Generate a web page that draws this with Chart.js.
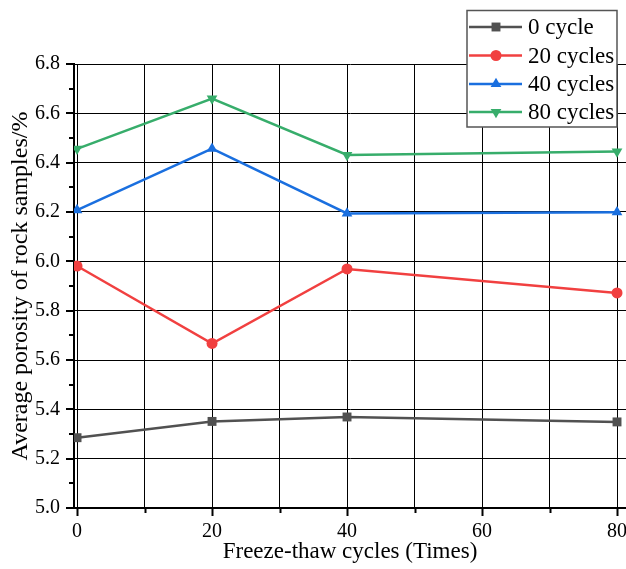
<!DOCTYPE html>
<html>
<head>
<meta charset="utf-8">
<script src="https://cdn.jsdelivr.net/npm/chart.js@4/dist/chart.umd.min.js"></script>
<style>
  html, body { margin: 0; padding: 0; background: #fff; }
  #wrap { position: relative; width: 626px; height: 569px; }
</style>
</head>
<body>
<div id="wrap"><canvas id="c" width="626" height="569"></canvas></div>
<script>
const xValues = [0, 20, 40, 80];
const seriesNames = ['0 cycle', '20 cycles', '40 cycles', '80 cycles'];
const cycle0 = [5.285, 5.351, 5.369, 5.349];
const cycle20 = [5.981, 5.667, 5.969, 5.872];
const cycle40 = [6.208, 6.457, 6.194, 6.199];
const cycle80 = [6.456, 6.660, 6.431, 6.445];
const xTicks = [0, 10, 20, 30, 40, 50, 60, 70, 80];
const yTicks = [5.0, 5.1, 5.2, 5.3, 5.4, 5.5, 5.6, 5.7, 5.8, 5.9, 6.0, 6.1, 6.2, 6.3, 6.4, 6.5, 6.6, 6.7, 6.8];

const FONT = '"Liberation Serif", "Times New Roman", serif';
const colors = ['#515151', '#F14040', '#1A6FDF', '#37AD6B'];
const styles = [
  { pointStyle: 'rect', radius: 6.3, rotation: 0 },
  { pointStyle: 'circle', radius: 5.5, rotation: 0 },
  { pointStyle: 'triangle', radius: 6.2, rotation: 0 },
  { pointStyle: 'triangle', radius: 6.2, rotation: 180 }
];
const allSeries = [cycle0, cycle20, cycle40, cycle80];

const datasets = allSeries.map((vals, i) => ({
  label: seriesNames[i],
  data: vals.map((v, j) => ({ x: xValues[j], y: v })),
  borderColor: colors[i],
  backgroundColor: colors[i],
  borderWidth: 2.5,
  pointStyle: styles[i].pointStyle,
  pointRadius: styles[i].radius,
  pointRotation: styles[i].rotation,
  pointBorderWidth: 0,
  pointBackgroundColor: colors[i],
  tension: 0,
  order: 4 - i
}));

const isMajorY = v => Math.abs(v * 5 - Math.round(v * 5)) < 1e-6;
const isMajorX = v => Math.abs(v / 20 - Math.round(v / 20)) < 1e-6;

// stretch plot area to the canvas' right edge, as in the reference
const stretchRight = {
  id: 'stretchRight',
  afterLayout(chart) {
    const W = chart.width;
    const a = chart.chartArea;
    a.right = W;
    a.width = W - a.left;
    const x = chart.scales.x;
    x.right = W;
    x.width = W - x.left;
    x.configure();
  }
};

const minorTicks = {
  id: 'minorTicks',
  afterDraw(chart) {
    const ctx = chart.ctx;
    const xs = chart.scales.x, ys = chart.scales.y;
    const area = chart.chartArea;
    ctx.save();
    ctx.strokeStyle = '#000';
    ctx.lineWidth = 2;
    yTicks.forEach(v => {
      const py = Math.round(ys.getPixelForValue(v));
      const len = isMajorY(v) ? 8 : 5;
      ctx.beginPath();
      ctx.moveTo(area.left, py);
      ctx.lineTo(area.left - len, py);
      ctx.stroke();
    });
    xTicks.forEach(v => {
      const px = Math.round(xs.getPixelForValue(v)) + 0.5;
      const len = isMajorX(v) ? 8 : 5;
      ctx.beginPath();
      ctx.moveTo(px, area.bottom);
      ctx.lineTo(px, area.bottom + len);
      ctx.stroke();
    });
    ctx.restore();
  }
};

const boxLegend = {
  id: 'boxLegend',
  afterDraw(chart) {
    const ctx = chart.ctx;
    const left = 467, top = 10.5, right = 617, bottom = 127;
    ctx.save();
    ctx.fillStyle = '#fff';
    ctx.fillRect(left, top, right - left, bottom - top);
    ctx.strokeStyle = '#555';
    ctx.lineWidth = 1.5;
    ctx.strokeRect(left, top, right - left, bottom - top);
    const rows = [27, 55.5, 84, 112];
    chart.data.datasets.forEach((ds, i) => {
      const y = rows[i];
      ctx.strokeStyle = ds.borderColor;
      ctx.lineWidth = 2.5;
      ctx.beginPath();
      ctx.moveTo(469, y);
      ctx.lineTo(522, y);
      ctx.stroke();
      ctx.fillStyle = ds.borderColor;
      ctx.strokeStyle = ds.borderColor;
      Chart.helpers.drawPoint(ctx, {
        pointStyle: ds.pointStyle,
        rotation: ds.pointRotation,
        radius: ds.pointRadius,
        borderWidth: 0
      }, 496, y);
      ctx.fillStyle = '#000';
      ctx.font = '23px ' + FONT;
      ctx.textBaseline = 'middle';
      ctx.textAlign = 'left';
      ctx.fillText(ds.label, 528, y + 1);
    });
    ctx.restore();
  }
};

new Chart(document.getElementById('c'), {
  type: 'line',
  data: { datasets },
  options: {
    responsive: false,
    animation: false,
    devicePixelRatio: 1,
    layout: { padding: { top: 64, right: 0, bottom: 0, left: 0 } },
    plugins: { legend: { display: false }, tooltip: { enabled: false } },
    scales: {
      x: {
        type: 'linear',
        min: -0.45,
        max: 81.33,
        afterBuildTicks: s => { s.ticks = xTicks.map(v => ({ value: v })); },
        afterFit: s => { s.height = 61; s.paddingLeft = 0; s.paddingRight = 0; },
        ticks: {
          autoSkip: false,
          maxRotation: 0,
          padding: 12,
          color: '#000',
          font: { family: FONT, size: 20 },
          callback: v => isMajorX(v) ? String(v) : ''
        },
        grid: { color: '#000', lineWidth: 1, drawTicks: false, tickLength: 0 },
        border: { display: true, color: '#000', width: 2 },
        title: {
          display: true,
          text: 'Freeze-thaw cycles (Times)',
          color: '#000',
          font: { family: FONT, size: 23 },
          padding: { top: 0, bottom: 3 }
        }
      },
      y: {
        type: 'linear',
        min: 5.0,
        max: 6.8,
        afterBuildTicks: s => { s.ticks = yTicks.map(v => ({ value: v })); },
        afterFit: s => { s.width = 74; s.paddingTop = 0; s.paddingBottom = 0; },
        ticks: {
          autoSkip: false,
          padding: 14,
          color: '#000',
          font: { family: FONT, size: 20 },
          callback: v => isMajorY(v) ? Number(v).toFixed(1) : ''
        },
        grid: {
          color: c => (c.tick && isMajorY(c.tick.value)) ? '#000' : 'rgba(0,0,0,0)',
          lineWidth: 1,
          drawTicks: false,
          tickLength: 0
        },
        border: { display: true, color: '#000', width: 2 },
        title: {
          display: true,
          text: 'Average porosity of rock samples/%',
          color: '#000',
          font: { family: FONT, size: 24 },
          padding: { top: 6, bottom: 0 }
        }
      }
    }
  },
  plugins: [stretchRight, minorTicks, boxLegend]
});
</script>
</body>
</html>
